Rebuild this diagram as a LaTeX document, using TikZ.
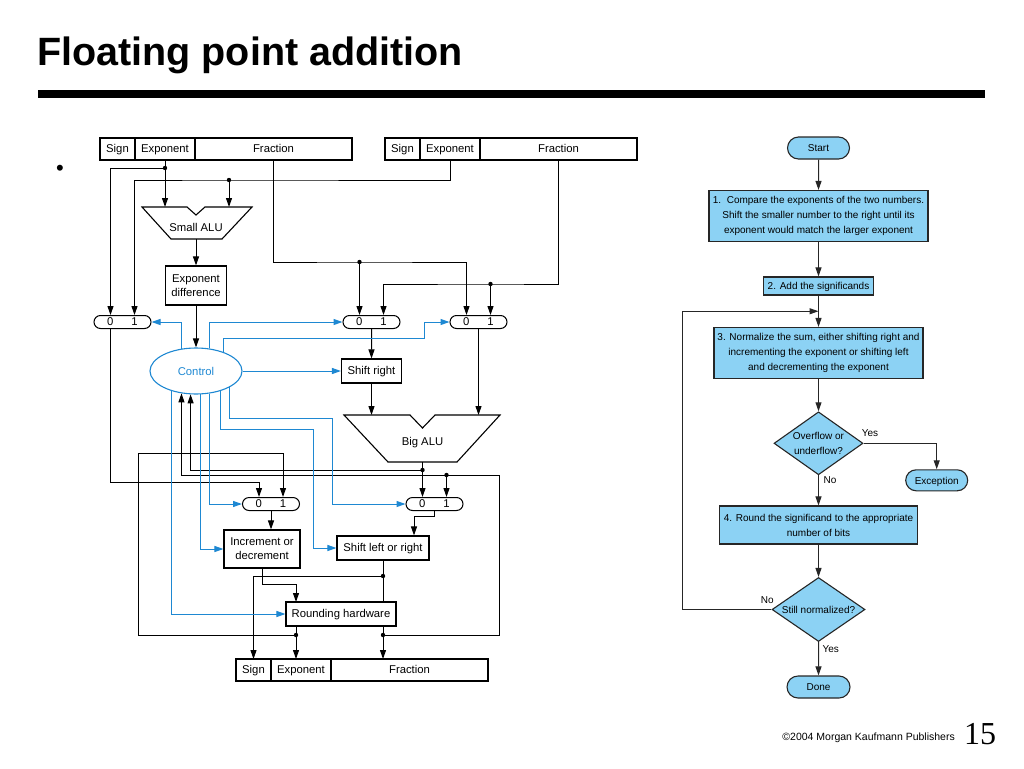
\documentclass[tikz,border=0pt]{standalone}
\usepackage{fontspec}
\setmainfont{Liberation Sans}
\newfontfamily\pagefont{Liberation Serif}
\usetikzlibrary{arrows.meta,positioning,calc,shapes.geometric,shapes.misc}
\definecolor{ctrlblue}{RGB}{30,136,210}
\definecolor{stepblue}{RGB}{140,210,244}
\newcommand{\dpfont}{\fontsize{11.3}{14}\selectfont}
\newcommand{\fcfont}{\fontsize{10}{15}\selectfont}
\tikzset{
  oneline/.style={text height=8pt,text depth=0.5pt},
  field/.style={draw,oneline,line width=1.1pt,minimum height=22pt,inner sep=0pt,outer sep=0pt,font=\dpfont},
  unit/.style={draw,line width=1.1pt,inner sep=0pt,align=center,font=\dpfont},
  mux/.style={draw,oneline,rounded rectangle,line width=1pt,minimum width=57pt,minimum height=13pt,inner sep=0pt,font=\dpfont},
  alu/.style={line width=1.1pt,line join=miter},
  wire/.style={line width=1pt},
  arr/.style={wire,-{Triangle[length=9pt,width=6pt]}},
  carr/.style={arr,ctrlblue},
  stepbox/.style={draw=black!85,fill=stepblue,line width=1.1pt,inner sep=0pt,align=center,font=\fcfont},
  term/.style={stepbox,rounded rectangle,minimum width=62pt,minimum height=22pt},
  decide/.style={stepbox,diamond,aspect=1.4},
  farr/.style={wire,black!85,-{Triangle[length=9pt,width=6pt]}},
  flabel/.style={font=\fcfont,inner sep=0pt}
}

\begin{document}
\begin{tikzpicture}[x=1pt,y=-1pt]
  \useasboundingbox (0,0) rectangle (1024,768);

  % title and rule
  \node[anchor=base west,inner sep=0pt,font=\fontsize{39.5}{44}\selectfont\bfseries] (title) at (37,66) {Floating point addition};
  \fill (38,90) rectangle (985,97.5);
  \node[inner sep=0pt,font=\fontsize{22}{22}\selectfont] (bullet) at (60,170) {\textbullet};

  % registers
  \foreach \p/\x/\y in {a/100/149,b/385/149,c/236/670} {
    \node[field,minimum width=35pt,anchor=west] (\p S) at (\x,\y) {Sign};
    \node[field,minimum width=60pt,right=0pt of \p S] (\p E) {Exponent};
    \node[field,minimum width=157pt,right=0pt of \p E] (\p F) {Fraction};
  }

  % multiplexors
  \foreach \m/\x/\y in {m1/122.5/322,m2/371.5/322,m3/478.5/322,m4/271/504,m5/434.5/504} {
    \node[mux] (\m) at (\x,\y) {0\hspace{18pt}1};
    \coordinate (\m a) at ($(\m.north)+(-12,0)$);
    \coordinate (\m b) at ($(\m.north)+(12,0)$);
  }
  \coordinate (m1o) at ($(m1.south)+(-12,0)$);

  % small ALU
  \draw[alu] (142,207) -- (187,207) -- (196,215) -- (205,207) -- (252,207)
    -- (222,239) -- (171,239) -- cycle;
  \node[font=\dpfont] (salu) at (196,227) {Small ALU};
  \coordinate (saluA) at (165,207);
  \coordinate (saluB) at (229,207);
  \coordinate (saluO) at (196,239);

  % big ALU
  \draw[alu] (344,415) -- (410,415) -- (422.5,428) -- (435,415) -- (500,415)
    -- (457,462) -- (388,462) -- cycle;
  \node[font=\dpfont] (balu) at (422.5,443) {Big ALU};
  \coordinate (baluA) at (371.5,415);
  \coordinate (baluB) at (478.5,415);
  \coordinate (baluO) at (422.5,462);

  % units
  \node[unit,minimum width=61pt,minimum height=39pt] (ediff) at (196,285.5) {Exponent\\difference};
  \node[ellipse,draw=ctrlblue,text=ctrlblue,line width=1.1pt,minimum width=92pt,minimum height=46pt,font=\dpfont] (ctrl) at (196,371) {Control};
  \node[unit,oneline,minimum width=60pt,minimum height=24pt] (shr) at (371.5,371) {Shift right};
  \node[unit,minimum width=76pt,minimum height=38pt] (incr) at (262,549) {Increment or\\decrement};
  \node[unit,oneline,minimum width=92pt,minimum height=24pt] (slr) at (383,548) {Shift left or right};
  \node[unit,oneline,minimum width=110pt,minimum height=24pt] (rnd) at (341,614) {Rounding hardware};
  \coordinate (rEi) at (296,602);
  \coordinate (rEo) at (296,626);

  % junctions
  \coordinate (d1) at (165,168);
  \coordinate (d2) at (229,180);
  \coordinate (d3) at (359.5,262);
  \coordinate (d4) at (490.5,284);
  \coordinate (d5) at (422.5,470);
  \coordinate (d6) at (446.5,475);
  \coordinate (d7) at (296,635);
  \coordinate (d8) at (383,635);
  \coordinate (d9) at (383,576);
  \foreach \d in {d1,d2,d3,d4,d5,d6,d7,d8,d9} {
    \fill (\d) circle (2.2);
  }

  % exponents
  \draw[wire] (aE.south) -- (d1);
  \draw[arr] (d1) -| (m1a);
  \draw[arr] (d1) -- (saluA);
  \draw[arr] (bE.south) |- (d2) -| (m1b);
  \draw[arr] (d2) -- (saluB);
  \draw[arr] (saluO) -- (ediff);
  \draw[arr] (ediff) -- (ctrl);

  % fractions
  \draw[arr] (aF.south) |- (d3) -| (m3a);
  \draw[arr] (d3) -- (m2a);
  \draw[arr] (bF.south) |- (d4) -| (m2b);
  \draw[arr] (d4) -- (m3b);
  \draw[arr] (m2) -- (shr);
  \draw[arr] (shr) -- (baluA);
  \draw[arr] (m3) -- (baluB);

  % sum and feedback
  \draw[wire] (baluO) -- (d5);
  \draw[arr] (d5) -- (m5a);
  \draw[arr] (d5) -| (ctrl.-103);
  \draw[arr] (d6) -- (m5b);
  \draw[arr] (m1o) |- ($(m4a)+(0,-15)$) -- (m4a);
  \draw[arr] (m4.south) -- (m4.south |- incr.north);
  \draw[arr] (m5.south) -- ++(0,5) -| ($(slr.north)+(31,0)$);
  \draw[arr] (incr.south) |- ($(rEi)+(0,-18)$) -- (rEi);
  \draw[wire] (slr.south) -- (slr.south |- rnd.north);
  \draw[arr] (d9) -| (cS.north);
  \draw[arr] (rEo) -- (cE.north -| rEo);
  \draw[arr] (rnd.south -| slr.south) -- (cF.north -| slr.south);
  \draw[arr] (d7) -| (138,453) -| (m4b);
  \draw[arr] (d8) -| (499,475) -| (ctrl.-123);

  % control lines
  \draw[carr] (ctrl.123) |- (m1.east);
  \draw[carr] (ctrl.60) |- (m2.west);
  \draw[carr] (ctrl.35) |- (424,338) |- (m3.west);
  \draw[carr] (ctrl.east) -- (shr.west);
  \draw[carr] (ctrl.-26) |- (332,418) |- (m5.west);
  \draw[carr] (ctrl.-40) |- (313,429) |- (slr.west);
  \draw[carr] (ctrl.-59) |- (m4.west);
  \draw[carr] (ctrl.-78) |- (incr.west);
  \draw[carr] (ctrl.-140) |- (rnd.west);

  % flow chart
  \node[term,oneline] (start) at (818.5,148) {Start};
  \node[stepbox,minimum width=219pt,minimum height=51pt] (s1) at (818.5,216)
    {1.\ \ Compare the exponents of the two numbers.\\Shift the smaller number to the right until its\\exponent would match the larger exponent};
  \node[stepbox,oneline,minimum width=110pt,minimum height=18pt] (s2) at (818.5,286) {2. Add the significands};
  \node[stepbox,minimum width=209pt,minimum height=51pt] (s3) at (818.5,353)
    {3. Normalize the sum, either shifting right and\\incrementing the exponent or shifting left\\and decrementing the exponent};
  \node[decide,minimum width=89pt,minimum height=63pt] (q1) at (818.5,443.3) {Overflow or\\underflow?};
  \node[term,oneline,minimum height=21pt] (exc) at (936.7,480.3) {Exception};
  \node[stepbox,minimum width=198pt,minimum height=38pt] (s4) at (818.5,525)
    {4. Round the significand to the appropriate\\number of bits};
  \node[decide,minimum width=93pt,minimum height=64pt] (q2) at (818.5,609.5) {Still normalized?};
  \node[term,oneline,minimum width=63pt] (done) at (818.5,687) {Done};

  \draw[farr] (start) -- (s1);
  \draw[farr] (s1) -- (s2);
  \draw[farr] (s2) -- (s3);
  \draw[farr] (s3) -- (q1);
  \draw[farr] (q1) -- (s4);
  \draw[farr] (s4) -- (q2);
  \draw[farr] (q2) -- (done);
  \draw[farr] (q1.east) -| (exc.north);
  \draw[farr] (q2.west) -- ++(-89,0) |- ($(s2.south)!0.5!(s3.north)$);
  \node[flabel] (yes1) at (870,433.3) {Yes};
  \node[flabel] (no1) at (830,480) {No};
  \node[flabel] (no2) at (767.3,600) {No};
  \node[flabel] (yes2) at (830.7,649.3) {Yes};

  % footer
  \node[anchor=base east,inner sep=0pt,font=\fontsize{10.5}{12}\selectfont] (credit) at (955,740) {\textcopyright 2004 Morgan Kaufmann Publishers};
  \node[anchor=base west,inner sep=0pt,font=\pagefont\fontsize{32}{34}\selectfont] (pagenum) at (964,744) {15};
\end{tikzpicture}
\end{document}
